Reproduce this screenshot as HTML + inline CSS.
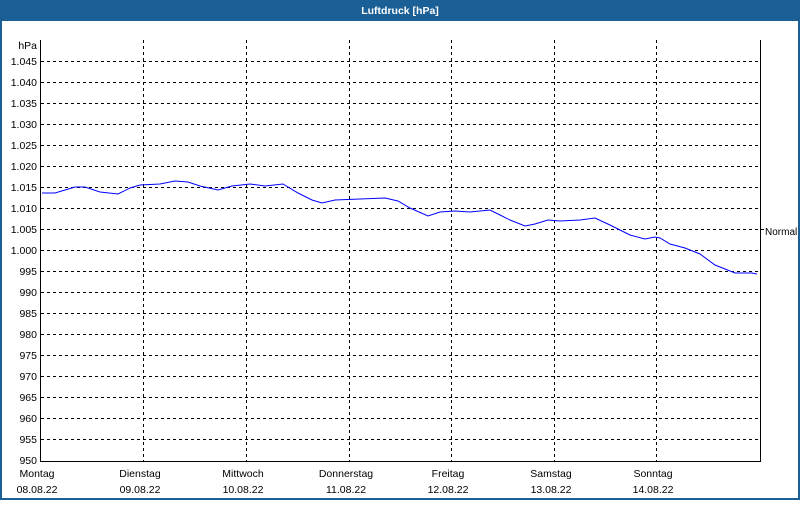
<!DOCTYPE html>
<html><head><meta charset="utf-8"><style>
body{margin:0;background:#fff;}
svg text{font-family:"Liberation Sans",sans-serif;font-size:10.5px;fill:#000;}
</style></head><body>
<svg width="800" height="500" viewBox="0 0 800 500" xmlns="http://www.w3.org/2000/svg">
<rect x="0" y="0" width="800" height="500" fill="#1a5f96"/>
<rect x="2" y="21" width="796" height="477" fill="#fff"/>
<text x="400" y="14" text-anchor="middle" style="fill:#fff;font-weight:bold">Luftdruck [hPa]</text>
<g stroke="#000" stroke-width="1" stroke-dasharray="3,3" fill="none">
<path d="M41 61.5H760M41 82.5H760M41 103.5H760M41 124.5H760M41 145.5H760M41 166.5H760M41 187.5H760M41 208.5H760M41 229.5H760M41 250.5H760M41 271.5H760M41 292.5H760M41 313.5H760M41 334.5H760M41 355.5H760M41 376.5H760M41 397.5H760M41 418.5H760M41 439.5H760"/>
<path d="M143.5 40V461M246.5 40V461M349.5 40V461M451.5 40V461M554.5 40V461M656.5 40V461"/>
</g>
<path d="M40.5 40V461.5H760.5V40" stroke="#000" fill="none"/>
<path d="M760 229.5H764" stroke="#000"/>
<text x="765" y="235" style="font-size:10px">Normal</text>
<g text-anchor="end">
<text x="37" y="49">hPa</text>
<text x="37" y="65">1.045</text><text x="37" y="86">1.040</text><text x="37" y="107">1.035</text><text x="37" y="128">1.030</text><text x="37" y="149">1.025</text><text x="37" y="170">1.020</text><text x="37" y="191">1.015</text><text x="37" y="212">1.010</text><text x="37" y="233">1.005</text><text x="37" y="254">1.000</text><text x="37" y="275">995</text><text x="37" y="296">990</text><text x="37" y="317">985</text><text x="37" y="338">980</text><text x="37" y="359">975</text><text x="37" y="380">970</text><text x="37" y="401">965</text><text x="37" y="422">960</text><text x="37" y="443">955</text><text x="37" y="464">950</text>
</g>
<g text-anchor="middle">
<text x="37" y="477">Montag</text><text x="37" y="493">08.08.22</text>
<text x="140" y="477">Dienstag</text><text x="140" y="493">09.08.22</text>
<text x="243" y="477">Mittwoch</text><text x="243" y="493">10.08.22</text>
<text x="346" y="477">Donnerstag</text><text x="346" y="493">11.08.22</text>
<text x="448" y="477">Freitag</text><text x="448" y="493">12.08.22</text>
<text x="551" y="477">Samstag</text><text x="551" y="493">13.08.22</text>
<text x="653" y="477">Sonntag</text><text x="653" y="493">14.08.22</text>
</g>
<polyline fill="none" stroke="#0000ff" stroke-width="1" points="42,193 55,193 65,190 75,187 85,187 100,192 118,194 130,188 140,185 160,184 175,181 188,182 200,186 218,190 232,186 250,184 265,186 283,184 298,193 312,200 322,203 335,200 385,198 398,201 410,208 428,216 440,212 455,211 470,212 490,210 500,215 510,220 525,226 535,224 548,220 560,221 580,220 595,218 610,225 630,235 645,239 655,237 660,238 670,244 685,248 700,254 715,265 725,269 735,273 752,273 757,274"/>
</svg>
</body></html>
